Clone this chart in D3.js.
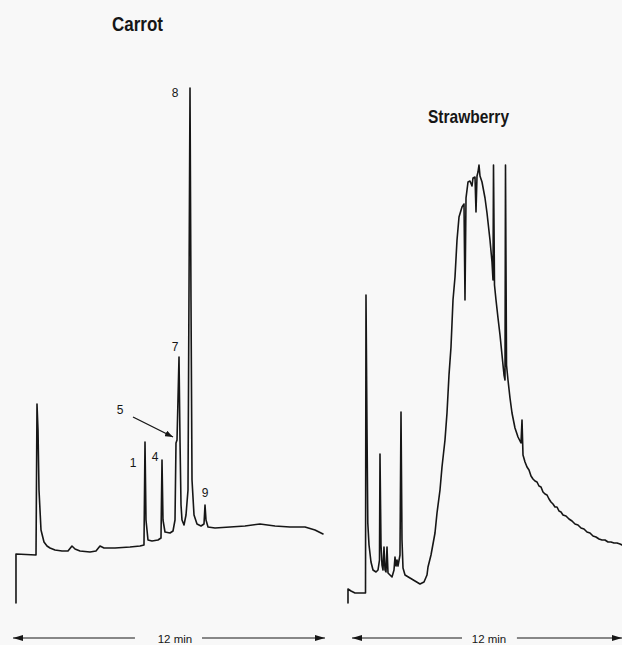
<!DOCTYPE html>
<html>
<head>
<meta charset="utf-8">
<script src="https://cdn.jsdelivr.net/npm/d3@7"></script>
<style>
  html, body { margin: 0; padding: 0; background: #f8f8f8; }
  svg { display: block; }
</style>
</head>
<body>
<svg id="chart" width="622" height="645"></svg>
<script>
// Gas chromatograms of carrot and strawberry volatiles.
// Retention time in minutes, detector response in arbitrary units.

const carrotTime = [0.115, 0.115, 0.885, 0.923, 0.962, 1.0, 1.077, 1.192, 1.308, 1.423,
  1.615, 1.885, 2.115, 2.269, 2.385, 2.577, 2.962, 3.192, 3.346, 3.5,
  3.923, 4.5, 4.885, 5.038, 5.077, 5.115, 5.192, 5.346, 5.577, 5.692,
  5.731, 5.769, 5.846, 6.038, 6.154, 6.231, 6.269, 6.308, 6.385, 6.423,
  6.462, 6.5, 6.577, 6.654, 6.731, 6.808, 6.846, 6.885, 6.962, 7.077,
  7.231, 7.346, 7.385, 7.423, 7.5, 7.769, 8.346, 8.923, 9.5, 10.077,
  10.654, 11.231, 11.615, 11.923];
const carrotSignal = [0, 9.8, 9.6, 39.8, 34.6, 22.6, 14.6, 12.2, 11.4, 11.0,
  10.6, 10.4, 10.4, 11.4, 10.8, 10.4, 10.2, 10.4, 11.4, 11.0,
  11.0, 11.2, 11.4, 11.6, 32.2, 16.6, 12.6, 12.4, 12.6, 13.0,
  28.6, 16.6, 14.2, 14.0, 14.4, 16.6, 32.0, 32.6, 49.2, 32.6,
  19.6, 16.6, 15.6, 17.6, 22.6, 103, 60.6, 24.6, 17.6, 15.8,
  15.4, 15.8, 19.6, 16.6, 15.2, 15.0, 15.2, 15.4, 15.8, 15.4,
  15.2, 15.2, 14.6, 13.8];

const strawberryTime = [-0.178, -0.178, -0.044, 0.133, 0.444, 0.6, 0.622, 0.667, 0.702, 0.756,
  0.844, 0.933, 1.067, 1.156, 1.222, 1.244, 1.289, 1.333, 1.378, 1.422,
  1.467, 1.511, 1.556, 1.6, 1.689, 1.778, 1.867, 1.911, 1.956, 2.0,
  2.044, 2.133, 2.178, 2.222, 2.267, 2.356, 2.578, 2.8, 3.022, 3.2,
  3.333, 3.378, 3.511, 3.689, 3.778, 3.911, 4.0, 4.133, 4.222, 4.311,
  4.4, 4.489, 4.578, 4.667, 4.756, 4.889, 4.978, 5.022, 5.067, 5.156,
  5.244, 5.333, 5.378, 5.467, 5.511, 5.556, 5.6, 5.644, 5.689, 5.778,
  5.911, 6.0, 6.133, 6.222, 6.267, 6.289, 6.333, 6.4, 6.489, 6.578,
  6.667, 6.756, 6.8, 6.822, 6.867, 6.933, 7.022, 7.111, 7.244, 7.378,
  7.511, 7.556, 7.6, 7.689, 7.778, 7.867, 7.956, 8.044, 8.133, 8.222,
  8.311, 8.4, 8.489, 8.578, 8.667, 8.756, 8.844, 8.933, 9.022, 9.111,
  9.2, 9.289, 9.378, 9.511, 9.644, 9.778, 9.911, 10.044, 10.178, 10.311,
  10.444, 10.578, 10.711, 10.844, 10.978, 11.111, 11.244, 11.378, 11.511, 11.644,
  11.778, 11.911, 12.0];
const strawberrySignal = [0, 2.8, 2.4, 2.0, 2.0, 2.0, 61.6, 34.6, 16.0, 11.6,
  8.2, 6.6, 6.2, 6.6, 8.6, 29.8, 11.6, 7.6, 6.6, 11.2,
  6.6, 6.2, 11.2, 6.0, 5.6, 5.2, 6.6, 9.2, 7.4, 8.6,
  7.4, 9.6, 38.2, 12.6, 7.0, 5.6, 5.0, 4.4, 3.8, 4.2,
  5.6, 7.2, 9.6, 14.0, 18.0, 22.6, 27.2, 32.6, 38.0, 45.6,
  51.2, 60.6, 65.2, 72.6, 77.2, 79.2, 79.8, 60.6, 81.0, 84.2,
  84.4, 83.4, 85.0, 85.2, 78.2, 85.4, 86.2, 87.6, 85.4, 84.2,
  81.0, 78.0, 72.6, 68.2, 64.6, 87.6, 63.6, 60.6, 57.0, 53.6,
  49.6, 45.6, 44.6, 87.6, 47.6, 44.6, 41.0, 38.0, 35.0, 33.2,
  32.0, 36.6, 29.6, 28.2, 27.2, 26.6, 25.4, 24.8, 24.4, 24.2,
  23.4, 23.2, 22.2, 21.8, 21.6, 20.8, 20.2, 19.8, 19.2, 19.2,
  18.4, 18.2, 17.6, 17.4, 16.8, 16.4, 15.8, 15.6, 15.0, 14.8,
  14.2, 14.0, 13.4, 13.2, 12.8, 12.6, 12.6, 12.2, 12.2, 12.0,
  12.0, 11.8, 11.6];

// Numbered carrot peaks: id, retention time, apex response
const carrotPeakIds = ["1", "4", "5", "7", "8", "9"];
const carrotPeakTimes = [5.077, 5.731, 6.269, 6.385, 6.808, 7.385];
const carrotPeakApex = [32.2, 28.6, 32.0, 49.2, 103, 19.6];

const panelTitles = ["Carrot", "Strawberry"];
const runLengthMin = 12;
const runLabel = "12 min";

// ---- layout ----
const svg = d3.select("#chart");
svg.append("rect").attr("width", 622).attr("height", 645).attr("fill", "#f8f8f8");

const y = d3.scaleLinear().domain([0, 103]).range([603, 88]);
const xCarrot = d3.scaleLinear().domain([0, runLengthMin]).range([13, 325]);
const xStraw = d3.scaleLinear().domain([0, runLengthMin]).range([352, 622]);

const ink = "#161616";

const defs = svg.append("defs");
defs.append("marker")
  .attr("id", "head")
  .attr("viewBox", "0 0 10 6")
  .attr("refX", 10).attr("refY", 3)
  .attr("markerWidth", 10).attr("markerHeight", 6)
  .attr("markerUnits", "userSpaceOnUse")
  .attr("orient", "auto-start-reverse")
  .append("path").attr("d", "M0,0 L10,3 L0,6 Z").attr("fill", ink);
defs.append("marker")
  .attr("id", "pointer")
  .attr("viewBox", "0 0 8 6")
  .attr("refX", 8).attr("refY", 3)
  .attr("markerWidth", 8).attr("markerHeight", 6)
  .attr("markerUnits", "userSpaceOnUse")
  .attr("orient", "auto")
  .append("path").attr("d", "M0,0 L8,3 L0,6 Z").attr("fill", ink);

function drawTrace(times, values, x) {
  const line = d3.line().x(d => x(d[0])).y(d => y(d[1]));
  svg.append("path")
    .attr("d", line(d3.zip(times, values)))
    .attr("fill", "none")
    .attr("stroke", ink)
    .attr("stroke-width", 1.6)
    .attr("stroke-linejoin", "round")
    .attr("stroke-linecap", "round");
}

drawTrace(carrotTime, carrotSignal, xCarrot);
drawTrace(strawberryTime, strawberrySignal, xStraw);

// Panel titles
const titleFont = "'Liberation Sans', Arial, Helvetica, sans-serif";
svg.append("text").text(panelTitles[0])
  .attr("x", 112).attr("y", 31)
  .attr("font-family", titleFont).attr("font-weight", "bold").attr("font-size", 19.5)
  .attr("textLength", 51).attr("lengthAdjust", "spacingAndGlyphs")
  .attr("fill", ink);
svg.append("text").text(panelTitles[1])
  .attr("x", 428).attr("y", 123)
  .attr("font-family", titleFont).attr("font-weight", "bold").attr("font-size", 18.5)
  .attr("textLength", 81).attr("lengthAdjust", "spacingAndGlyphs")
  .attr("fill", ink);

// Peak numbers beside the carrot peaks (pixel offsets from each apex)
const labelOffsets = { "1": [-12, 21], "4": [-7, -3], "5": [-56, -33], "7": [-4, -10], "8": [-15, 5], "9": [0, -12] };
carrotPeakIds.forEach((id, i) => {
  const px = xCarrot(carrotPeakTimes[i]);
  const py = y(carrotPeakApex[i]);
  const [dx, dy] = labelOffsets[id];
  svg.append("text").text(id)
    .attr("x", px + dx).attr("y", py + dy)
    .attr("text-anchor", "middle").attr("dominant-baseline", "central")
    .attr("font-family", titleFont).attr("font-size", 12)
    .attr("fill", ink);
  if (id === "5") {
    svg.append("line")
      .attr("x1", px - 43).attr("y1", py - 26)
      .attr("x2", px - 3).attr("y2", py - 6)
      .attr("stroke", ink).attr("stroke-width", 1.3)
      .attr("marker-end", "url(#pointer)");
  }
});

// Run-length arrows under each chromatogram
function runArrow(x, leftEnd, rightStart, labelAt) {
  const yy = 638;
  svg.append("line")
    .attr("x1", x(0)).attr("x2", x(leftEnd)).attr("y1", yy).attr("y2", yy)
    .attr("stroke", ink).attr("stroke-width", 1.2)
    .attr("marker-start", "url(#head)");
  svg.append("line")
    .attr("x1", x(rightStart)).attr("x2", x(runLengthMin)).attr("y1", yy).attr("y2", yy)
    .attr("stroke", ink).attr("stroke-width", 1.2)
    .attr("marker-end", "url(#head)");
  svg.append("text").text(runLabel)
    .attr("x", x(labelAt)).attr("y", 642.5)
    .attr("text-anchor", "middle")
    .attr("font-family", titleFont).attr("font-size", 11.5)
    .attr("fill", ink);
}
runArrow(xCarrot, 4.69, 7.27, 6.23);
runArrow(xStraw, 4.89, 7.33, 6.09);
</script>
</body>
</html>
